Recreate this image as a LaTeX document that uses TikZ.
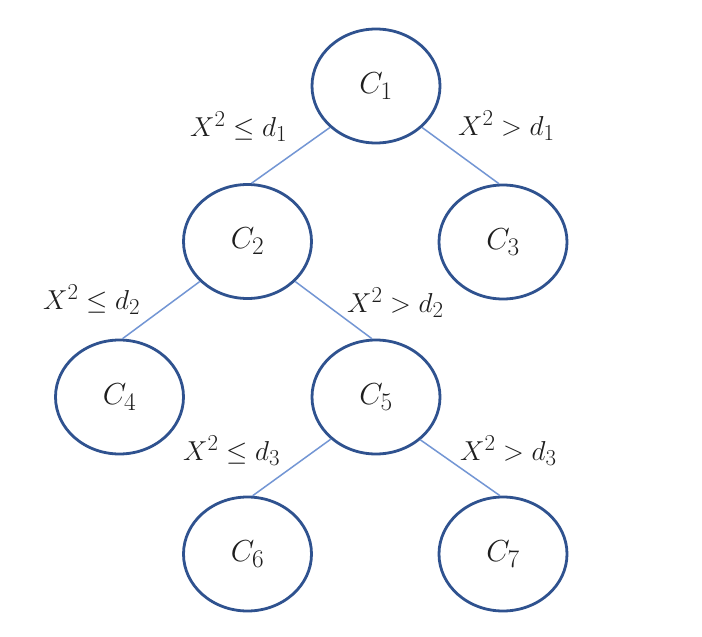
\documentclass[tikz,border=0pt]{standalone}
\usepackage{graphicx}
\usepackage{amssymb}
\usetikzlibrary{shapes.geometric}
\definecolor{ringblue}{HTML}{2F528F}
\definecolor{linkblue}{RGB}{115,150,212}
\definecolor{inkgray}{HTML}{1E1E1E}
\newcommand{\nodetxt}[1]{\scalebox{1.22}{$#1$}}
\newcommand{\condtxt}[1]{\scalebox{1.1}{$#1$}}
\begin{document}
\begin{tikzpicture}[x=1pt,y=-1pt,
  cnode/.style={ellipse, draw=ringblue, line width=2.8pt, fill=white,
    minimum width=128pt, minimum height=114pt, inner sep=0pt,
    text=inkgray, font=\fontsize{24.88}{30}\selectfont},
  link/.style={draw=linkblue, line width=1.5pt},
  cond/.style={anchor=base west, inner sep=0pt, text=inkgray,
    font=\fontsize{24.88}{30}\selectfont}]
\useasboundingbox[fill=white] (0,0) rectangle (702,637);
\node[cnode] (C1) at (376,86) {\nodetxt{C_1}};
\node[cnode] (C2) at (247.5,241.5) {\nodetxt{C_2}};
\node[cnode] (C3) at (503,242) {\nodetxt{C_3}};
\node[cnode] (C4) at (119.5,397) {\nodetxt{C_4}};
\node[cnode] (C5) at (376,397) {\nodetxt{C_5}};
\node[cnode] (C6) at (247.5,554) {\nodetxt{C_6}};
\node[cnode] (C7) at (503,554) {\nodetxt{C_7}};
\draw[link] (C1.-138) -- (C2.86);
\draw[link] (C1.-42) -- (C3.94);
\draw[link] (C2.-140) -- (C4.87);
\draw[link] (C2.-40.5) -- (C5.94);
\draw[link] (C5.-137) -- (C6.85.5);
\draw[link] (C5.-44) -- (C7.93);
\node[cond] (L1) at (190,136) {\condtxt{X^2 \leq d_1}};
\node[cond] (L2) at (458,135) {\condtxt{X^2 > d_1}};
\node[cond] (L3) at (43,309) {\condtxt{X^2 \leq d_2}};
\node[cond] (L4) at (347,312) {\condtxt{X^2 > d_2}};
\node[cond] (L5) at (183,460) {\condtxt{X^2 \leq d_3}};
\node[cond] (L6) at (460,460) {\condtxt{X^2 > d_3}};
\end{tikzpicture}
\end{document}
